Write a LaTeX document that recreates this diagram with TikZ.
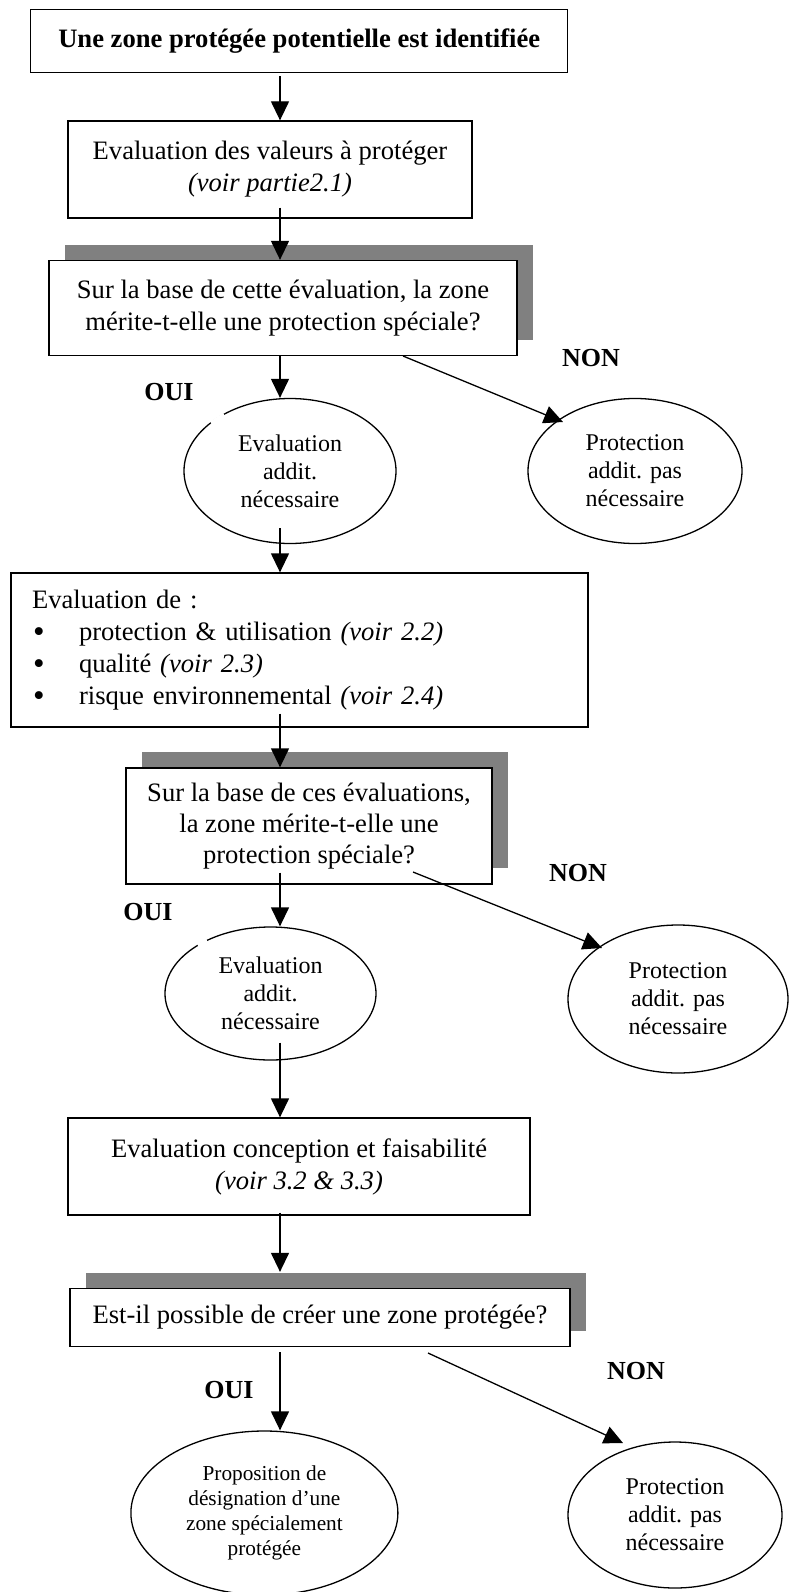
\documentclass[tikz,border=0pt]{standalone}
\usepackage{fontspec}
\setmainfont{Liberation Serif}
\usetikzlibrary{arrows.meta,shapes.geometric,shadows,calc}
\definecolor{shadowgray}{HTML}{808080}
\newcommand\bxfont{\fontsize{26.6}{32}\selectfont}
\newcommand\elfont{\fontsize{24}{28}\selectfont}
\newcommand\elsmall{\fontsize{21.3}{25}\selectfont}
\newcommand\lblfont{\fontsize{26}{30}\selectfont\bfseries}
\newcommand\bigbul{\hspace*{1pt}\makebox[46pt][l]{\raisebox{-2pt}[0pt][0pt]{\fontsize{33}{32}\selectfont •}}}
\begin{document}
\begin{tikzpicture}[x=1pt,y=-1pt,
  box/.style={draw, line width=1.3pt, rectangle, inner sep=0pt, align=center, font=\bxfont},
  shbox/.style={box, fill=white, drop shadow={shadow xshift=16pt, shadow yshift=16pt, fill=shadowgray, opacity=1}},
  ell/.style={draw, line width=1.3pt, ellipse, inner sep=0pt, align=center, font=\elfont},
  arr/.style={line width=1.3pt, -{Triangle[length=19pt,width=18pt]}},
  gap/.style={white, line width=3.5pt},
  lbl/.style={font=\lblfont, inner sep=0pt}]
\useasboundingbox (0,0) rectangle (789,1592);
\coordinate (ax) at (280,0);

\node[box, minimum width=537pt, minimum height=63pt, font=\bxfont\bfseries] (b1) at (299.2,41) {Une zone protégée potentielle est identifiée};
\node[box, minimum width=404pt, minimum height=97pt] (b2) at (270,169.5) {Evaluation des valeurs à protéger\\\textit{(voir partie2.1)}};
\node[shbox, minimum width=468pt, minimum height=95pt] (b3) at (283,308) {Sur la base de cette évaluation, la zone\\mérite-t-elle une protection spéciale?};
\node[ell, minimum width=212pt, minimum height=145pt] (e1) at (290,471) {Evaluation\\addit.\\nécessaire};
\node[ell, minimum width=214pt, minimum height=145pt] (e2) at (635,471) {Protection\\addit. pas\\nécessaire};
\node[box, align=left, text width=535pt, inner xsep=21pt, minimum height=154pt] (b4) at (299.5,650) {Evaluation de :\\
\bigbul protection \& utilisation \textit{(voir 2.2)}\\
\bigbul qualité \textit{(voir 2.3)}\\
\bigbul risque environnemental \textit{(voir 2.4)}};
\node[shbox, minimum width=366pt, minimum height=116pt, font=\fontsize{26.6}{31}\selectfont] (b5) at (309,826) {Sur la base de ces évaluations,\\la zone mérite-t-elle une\\protection spéciale?};
\node[ell, minimum width=211pt, minimum height=133pt] (e3) at (270.5,993.5) {Evaluation\\addit.\\nécessaire};
\node[ell, minimum width=220pt, minimum height=148pt] (e4) at (678,999) {Protection\\addit. pas\\nécessaire};
\node[box, minimum width=462pt, minimum height=97pt] (b6) at (299,1166.5) {Evaluation conception et faisabilité\\\textit{(voir 3.2 \& 3.3)}};
\node[shbox, minimum width=500pt, minimum height=58pt] (b7) at (320,1317.5) {Est-il possible de créer une zone protégée?};
\node[ell, minimum width=267pt, minimum height=164pt, font=\elsmall] (e5) at (264.4,1513) {Proposition de\\désignation d’une\\zone spécialement\\protégée};
\node[ell, minimum width=214pt, minimum height=146pt] (e6) at (675,1515) {Protection\\addit. pas\\nécessaire};

\node[lbl] (non1) at (591,358) {NON};
\node[lbl] (oui1) at (169,392) {OUI};
\node[lbl] (non2) at (578,873) {NON};
\node[lbl] (oui2) at (148,912) {OUI};
\node[lbl] (non3) at (636,1371) {NON};
\node[lbl] (oui3) at (229,1390) {OUI};

% small breaks in the outlines of the left ellipses
\draw[gap] (211,423) -- (224,414.5);
\draw[gap] (198,945.5) -- (207,940.5);

\draw[arr] ($(b1.south -| ax)+(0,3)$) -- (b2.north -| ax);
\draw[arr] ($(b2.south -| ax)+(0,-11)$) -- (b3.north -| ax);
\draw[arr] (b3.south -| ax) -- (e1.north -| ax);
\draw[arr] ($(e1.south -| ax)+(0,-16)$) -- (b4.north -| ax);
\draw[arr] ($(b4.south -| ax)+(0,-14)$) -- (b5.north -| ax);
\draw[arr] ($(b5.south -| ax)+(0,-12)$) -- (e3.north -| ax);
\draw[arr] ($(e3.south -| ax)+(0,-18)$) -- (b6.north -| ax);
\draw[arr] ($(b6.south -| ax)+(0,-3)$) -- ($(b7.north -| ax)+(0,-16)$);
\draw[arr] ($(b7.south -| ax)+(0,5)$) -- (e5.north -| ax);

\coordinate (n1s) at (403,356);
\coordinate (n1e) at (563,422);
\coordinate (n2s) at (413,872);
\coordinate (n2e) at (602,948);
\coordinate (n3s) at (428,1353);
\coordinate (n3e) at (623,1443);
\draw[arr] (n1s) -- (n1e);
\draw[arr] (n2s) -- (n2e);
\draw[arr] (n3s) -- (n3e);
\end{tikzpicture}
\end{document}
